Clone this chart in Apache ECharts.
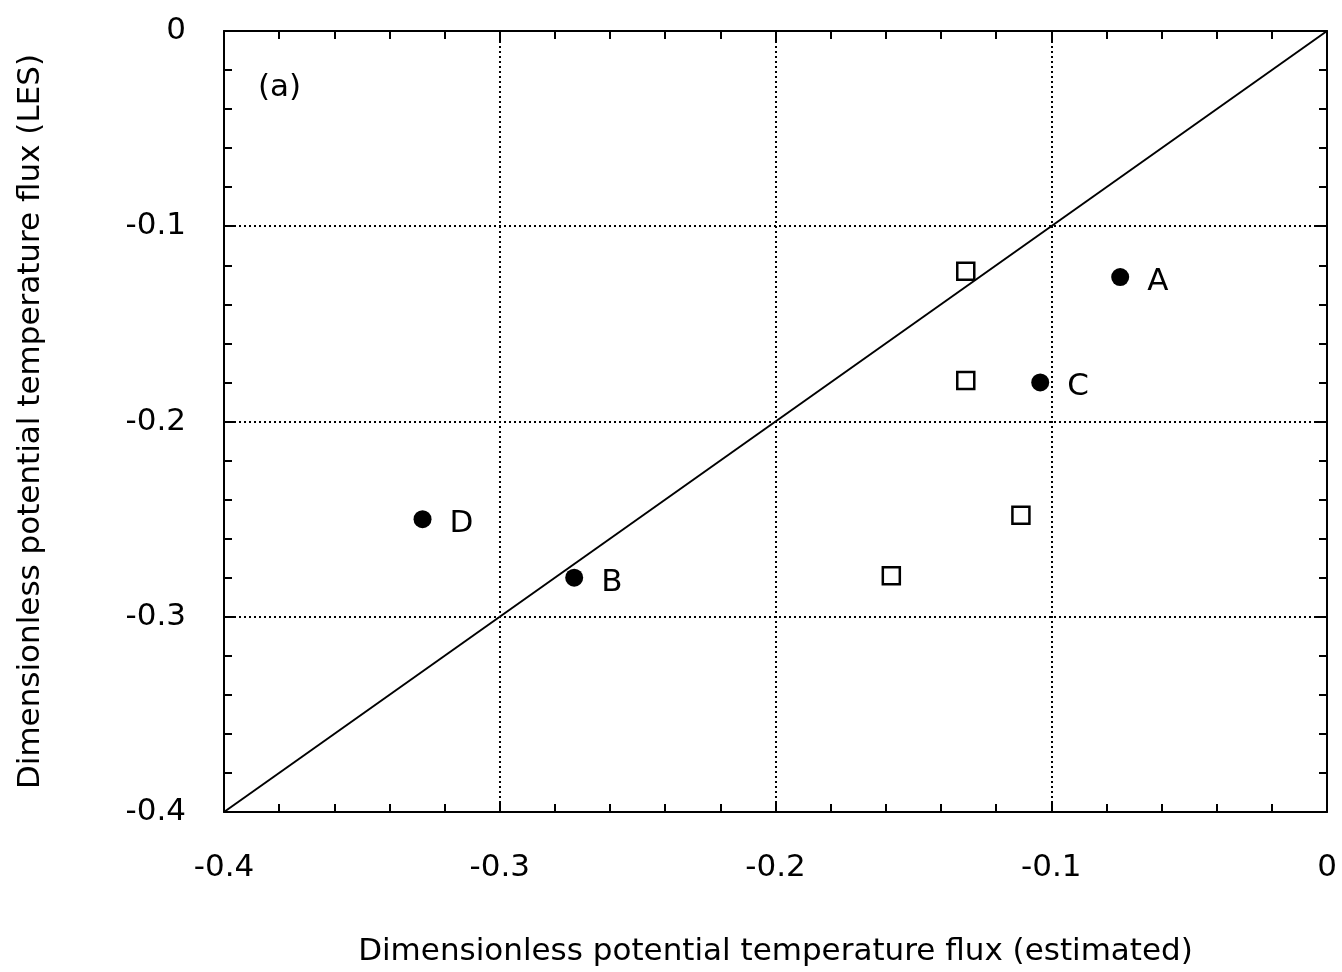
<!DOCTYPE html>
<html>
<head>
<meta charset="utf-8">
<script src="https://cdn.jsdelivr.net/npm/echarts@6/dist/echarts.min.js"></script>
<style>
html,body{margin:0;padding:0;background:#fff;}
#chart{width:1342px;height:972px;}
</style>
</head>
<body>
<div id="chart"></div>
<script>
// Data
const pointNames = ['A', 'B', 'C', 'D'];
const pointX = [-0.075, -0.273, -0.104, -0.328];
const pointY = [-0.126, -0.280, -0.180, -0.250];
const squareX = [-0.131, -0.131, -0.111, -0.158];
const squareY = [-0.123, -0.179, -0.248, -0.279];
const diagonalX = [-0.4, 0];
const diagonalY = [-0.4, 0];
const xTitle = 'Dimensionless potential temperature flux (estimated)';
const yTitle = 'Dimensionless potential temperature flux (LES)';
const panelLabel = '(a)';

const FONT = 'DejaVu Sans';
const FS = 31;
const chart = echarts.init(document.getElementById('chart'));

function fmt(v) {
  if (Math.abs(v) < 1e-9) return '0';
  return v.toFixed(1);
}

const baseAxis = {
  type: 'value', min: -0.4, max: 0, interval: 0.1,
  axisLine: { show: true, onZero: false, lineStyle: { color: '#000', width: 2 } },
  axisTick: { show: true, inside: true, length: 11, lineStyle: { color: '#000', width: 2 } },
  minorTick: { show: true, splitNumber: 5, length: 8, lineStyle: { color: '#000', width: 2 } },
  minorSplitLine: { show: false }
};

chart.setOption({
  animation: false,
  backgroundColor: '#fff',
  grid: { left: 224, right: 15, top: 31, bottom: 159 },
  xAxis: [
    Object.assign({}, baseAxis, {
      position: 'bottom',
      name: xTitle, nameLocation: 'middle', nameGap: 124,
      nameTextStyle: { fontFamily: FONT, fontSize: FS, color: '#000' },
      axisLabel: { show: true, margin: 40, fontFamily: FONT, fontSize: FS, color: '#000', formatter: fmt },
      splitLine: { show: true, lineStyle: { color: '#000', width: 2, type: [2, 3] } }
    }),
    Object.assign({}, baseAxis, {
      position: 'top',
      axisLabel: { show: false },
      splitLine: { show: false }
    })
  ],
  yAxis: [
    Object.assign({}, baseAxis, {
      position: 'left',
      name: yTitle, nameLocation: 'middle', nameGap: 178, nameRotate: 90,
      nameTextStyle: { fontFamily: FONT, fontSize: FS, color: '#000' },
      axisLabel: { show: true, margin: 38, fontFamily: FONT, fontSize: FS, color: '#000', formatter: fmt },
      splitLine: { show: true, lineStyle: { color: '#000', width: 2, type: [2, 3] } }
    }),
    Object.assign({}, baseAxis, {
      position: 'right',
      axisLabel: { show: false },
      splitLine: { show: false }
    })
  ],
  series: [
    {
      type: 'line',
      data: diagonalX.map((x, i) => [x, diagonalY[i]]),
      symbol: 'none',
      lineStyle: { color: '#000', width: 2 },
      z: 3
    },
    {
      type: 'scatter',
      data: pointX.map((x, i) => ({ value: [x, pointY[i]], name: pointNames[i] })),
      symbol: 'circle',
      symbolSize: 18,
      itemStyle: { color: '#000', opacity: 1 },
      label: {
        show: true, position: 'right', distance: 18,
        formatter: p => p.name,
        fontFamily: FONT, fontSize: FS, color: '#000', offset: [0, 5]
      },
      z: 5
    },
    {
      type: 'scatter',
      data: squareX.map((x, i) => [x, squareY[i]]),
      symbol: 'rect',
      symbolSize: 17,
      itemStyle: { color: '#fff', borderColor: '#000', borderWidth: 2.5, opacity: 1 },
      z: 5
    }
  ],
  graphic: [
    {
      type: 'text', left: 258, top: 72,
      style: { text: panelLabel, fontFamily: FONT, fontSize: FS, fill: '#000' }
    }
  ]
});
</script>
</body>
</html>
